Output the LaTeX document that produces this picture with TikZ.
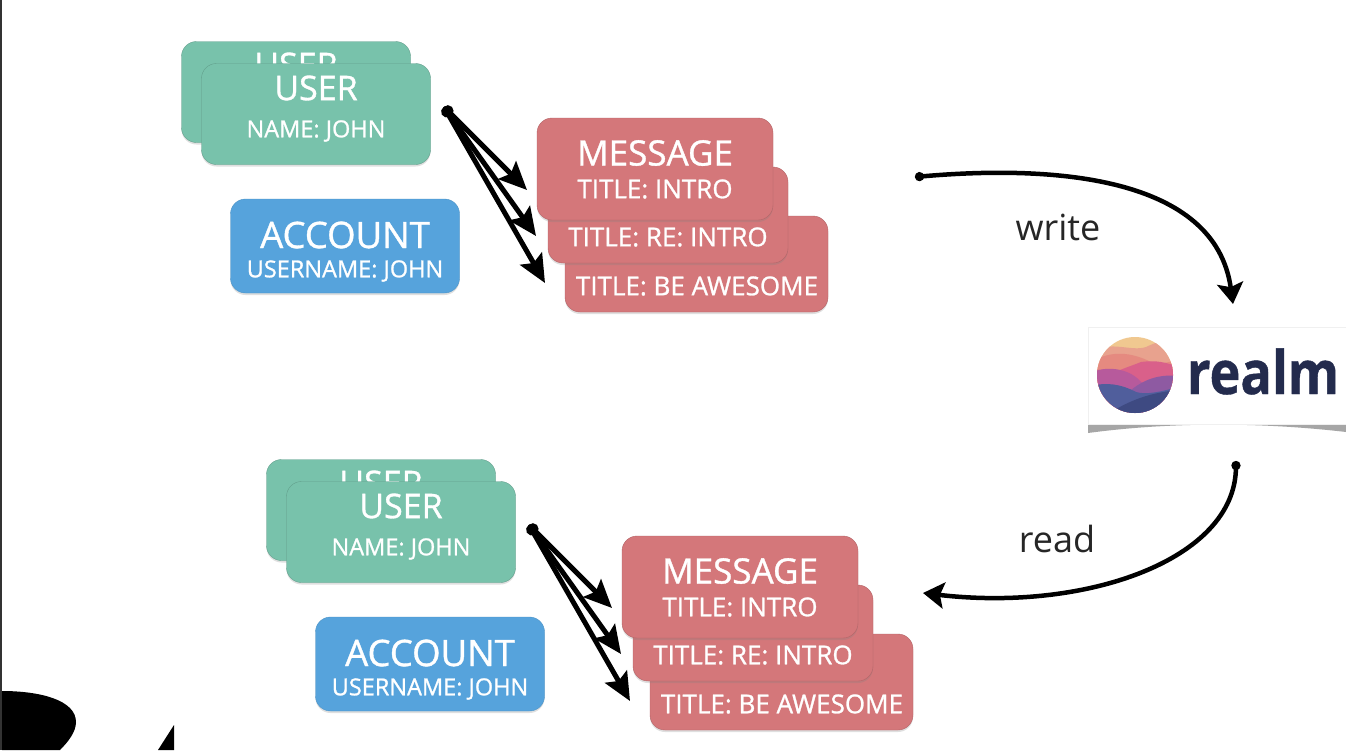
\documentclass[tikz,border=0pt]{standalone}
\usepackage{fontspec}
\setmainfont{Open Sans}
\newfontfamily\cardfont[FakeBold=1]{Open Sans}
\newfontfamily\realmfont[BoldFeatures={FakeStretch=0.87,FakeBold=0.7}]{Open Sans}
\usepackage{xcolor}
\usetikzlibrary{arrows.meta,shadows,positioning}

\definecolor{usergreen}{HTML}{78C2AB}
\definecolor{accountblue}{HTML}{56A3DC}
\definecolor{messagered}{HTML}{D4777A}
\definecolor{realmnavy}{HTML}{232B4D}
\definecolor{wavea}{HTML}{F0C890}
\definecolor{waveb}{HTML}{E8A28E}
\definecolor{wavec}{HTML}{E58A80}
\definecolor{waved}{HTML}{D9608A}
\definecolor{wavee}{HTML}{B75A9C}
\definecolor{wavef}{HTML}{8E5AA2}
\definecolor{waveg}{HTML}{505E9C}
\definecolor{waveh}{HTML}{3E4A82}

\begin{document}
\begin{tikzpicture}[
    x=1pt, y=-1pt,
    card/.style={rectangle, rounded corners=15pt, inner sep=0pt,
        drop shadow={shadow xshift=0pt, shadow yshift=-2pt, opacity=0.25}},
    usercard/.style={card, fill=usergreen, draw=black!18!usergreen, minimum width=229pt, minimum height=101pt},
    accountcard/.style={card, fill=accountblue, draw=black!10!accountblue, minimum width=229pt, minimum height=94pt},
    messagecard/.style={card, fill=messagered, draw=black!15!messagered},
    cardtext/.style={text=white, inner sep=0pt, font=\cardfont\fontsize{#1}{#1}\selectfont},
    fan/.style={{Circle[length=11pt]}-{Stealth[length=28pt, width=25pt, inset=5pt]}, line width=5pt, line cap=round},
    flow/.style={{Circle[length=9pt]}-{Stealth[length=21pt, width=26pt, inset=4pt]}, line width=4.5pt, line cap=round},
    flowtext/.style={inner sep=0pt, font=\fontsize{36}{40}\selectfont, text=black!85}
]
    \useasboundingbox (0,0) rectangle (1346,750);
    \fill[white] (0,0) rectangle (1346,750);
    \fill[black!80] (0,0) rectangle (2,750);

    % the same group of cards, above and below
    \foreach \grp/\dx/\dy in {top/0/0, bot/85/418} {
        \begin{scope}[shift={(\dx,\dy)}]
            \node[usercard] (\grp user2) at (296,92) {};
            \node[cardtext=34] (\grp user2name) at (296,65) {USER};
            \node[usercard] (\grp user) at (316,114) {};
            \node[cardtext=34] (\grp username) at (316,88) {USER};
            \node[cardtext=23.5] (\grp userjohn) at (316,131) {NAME: JOHN};

            \node[accountcard] (\grp account) at (345,246) {};
            \node[cardtext=36.5] (\grp accountname) at (345,235) {ACCOUNT};
            \node[cardtext=23.5] (\grp accountjohn) at (345,271) {USERNAME: JOHN};

            \node[messagecard, minimum width=263pt, minimum height=96pt] (\grp msgc) at (696.5,264) {};
            \node[cardtext=26] (\grp msgctitle) at (697,286) {TITLE: BE AWESOME};
            \node[messagecard, minimum width=240pt, minimum height=96pt] (\grp msgb) at (668,215) {};
            \node[cardtext=26] (\grp msgbtitle) at (668,237) {TITLE: RE: INTRO};
            \node[messagecard, minimum width=236pt, minimum height=102pt] (\grp msga) at (655,169) {};
            \node[cardtext=35] (\grp msganame) at (655,153) {MESSAGE};
            \node[cardtext=26] (\grp msgatitle) at (655,189) {TITLE: INTRO};

            \coordinate (\grp from) at (444,107);
            \coordinate (\grp toa) at (527,190);
            \coordinate (\grp tob) at (536,236);
            \coordinate (\grp toc) at (545,283);
            \draw[fan] (\grp from) -- (\grp toa);
            \draw[fan] (\grp from) -- (\grp tob);
            \draw[fan] (\grp from) -- (\grp toc);
        \end{scope}
    }

    % logo
    \fill[black!35] (1088,423) -- (1346,423) -- (1346,432)
        .. controls (1260,422) and (1170,422) .. (1088,433) -- cycle;
    \node[rectangle, fill=white, draw=black!6, minimum width=258pt, minimum height=97pt, inner sep=0pt]
        (realmbox) at (1217,375.5) {};
    \begin{scope}[shift={(-39,0)}]
        \clip (1174,375) circle (38pt);
        \fill[wavea] (1130,330) rectangle (1220,420);
        \fill[waveb] (1130,352) .. controls (1150,340) and (1170,352) .. (1185,347)
            .. controls (1195,342) and (1205,340) .. (1220,335) -- (1220,420) -- (1130,420) -- cycle;
        \fill[wavec] (1130,362) .. controls (1150,350) and (1170,352) .. (1190,362)
            .. controls (1200,365) and (1210,362) .. (1220,358) -- (1220,420) -- (1130,420) -- cycle;
        \fill[waved] (1130,385) .. controls (1150,372) and (1165,368) .. (1180,362)
            .. controls (1195,360) and (1205,362) .. (1220,368) -- (1220,420) -- (1130,420) -- cycle;
        \fill[wavee] (1130,372) .. controls (1150,365) and (1170,370) .. (1180,382)
            -- (1220,400) -- (1130,420) -- cycle;
        \fill[wavef] (1170,390) .. controls (1185,378) and (1200,374) .. (1220,376)
            -- (1220,420) -- (1170,420) -- cycle;
        \fill[waveg] (1130,386) .. controls (1145,382) and (1160,384) .. (1175,392)
            .. controls (1185,395) and (1200,392) .. (1220,386) -- (1220,420) -- (1130,420) -- cycle;
        \fill[waveh] (1150,412) .. controls (1170,400) and (1190,392) .. (1220,390)
            -- (1220,420) -- (1150,420) -- cycle;
    \end{scope}
    \node[inner sep=0pt, anchor=base, text=realmnavy, font=\realmfont\fontsize{60}{60}\bfseries\selectfont] (realmname) at (1263,394) {realm};

    % write and read
    \coordinate (writefrom) at (915,177);
    \coordinate (writeto) at (1233,304);
    \coordinate (readfrom) at (1236,461);
    \coordinate (readto) at (923,593);
    \draw[flow] (writefrom) .. controls (1050,165) and (1215,175) .. (writeto);
    \draw[flow] (readfrom) .. controls (1235,560) and (1085,612) .. (readto);
    \node[flowtext] (writelabel) at (1058,227) {write};
    \node[flowtext] (readlabel) at (1057,539) {read};

    % cut-off shapes in the corner
    \fill[black] (2,691) .. controls (40,691) and (76,700) .. (76,722)
        .. controls (76,732) and (68,742) .. (60,750) -- (2,750) -- cycle;
    \fill[black] (174,725) -- (158,750) -- (174,750) -- cycle;
\end{tikzpicture}
\end{document}
